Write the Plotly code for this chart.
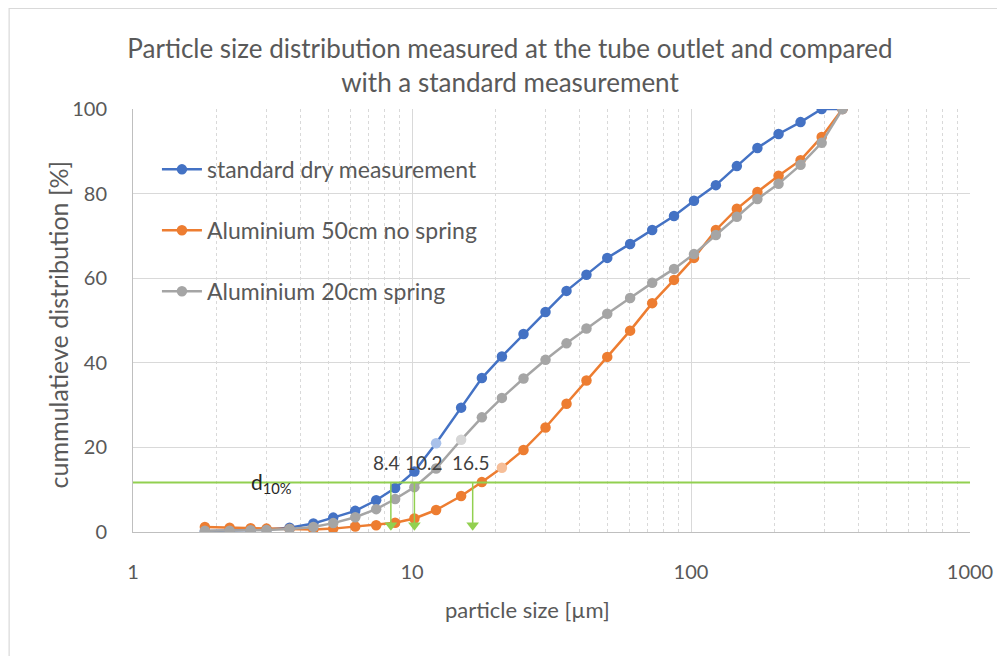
import math
import plotly.graph_objects as go

# ---- data ----
particle_size_um = [1.81, 2.22, 2.64, 3.01, 3.64, 4.43, 5.22, 6.26, 7.44, 8.70,
                    10.2, 12.2, 15.0, 17.8, 21.0, 25.1, 30.1, 35.8, 42.2, 50.1,
                    60.5, 72.6, 86.9, 102.5, 122.8, 146, 173, 206, 247, 294, 349]

standard_dry = [0.2, 0.3, 0.4, 0.6, 1.0, 2.0, 3.4, 5.0, 7.5, 10.4,
                14.3, 21.0, 29.4, 36.4, 41.5, 46.8, 52.0, 57.0, 60.8, 64.8,
                68.1, 71.4, 74.7, 78.3, 82.0, 86.5, 90.8, 94.1, 96.9, 100, 100]

alu_50cm_no_spring = [1.2, 1.0, 0.9, 0.8, 0.7, 0.6, 0.8, 1.3, 1.6, 2.2,
                      3.2, 5.2, 8.5, 11.8, 15.2, 19.4, 24.7, 30.3, 35.8, 41.4,
                      47.6, 54.1, 59.6, 64.8, 71.4, 76.4, 80.4, 84.2, 87.9, 93.4, 100]

alu_20cm_spring = [0.3, 0.3, 0.4, 0.5, 0.7, 1.2, 2.1, 3.5, 5.4, 7.8,
                   10.6, 15.0, 21.8, 27.1, 31.7, 36.3, 40.7, 44.6, 48.1, 51.6,
                   55.3, 58.9, 62.2, 65.7, 70.2, 74.5, 78.7, 82.3, 86.8, 92.0, 100]

series_names = ["standard dry measurement", "Aluminium 50cm no spring", "Aluminium 20cm spring"]

d10_level = 11.7
d10_values = [8.4, 10.2, 16.5]
d10_labels = ["8.4", "10.2", "16.5"]

x_tick_vals = [1, 10, 100, 1000]
x_tick_text = ["1", "10", "100", "1000"]
y_tick_vals = [0, 20, 40, 60, 80, 100]

# ---- styling ----
FONT = "Lato"
TXT = "#595959"
colors = ["#4472C4", "#ED7D31", "#A5A5A5"]
light_colors = ["#A9C1EA", "#F6BE98", "#D6D6D6"]
highlight_idx = [11, 14, 12]   # faded (selected) point of each series
GREEN = "#92D050"

fig = go.Figure()
for name, ys, c, lc, hi in zip(series_names,
                               [standard_dry, alu_50cm_no_spring, alu_20cm_spring],
                               colors, light_colors, highlight_idx):
    mcols = [lc if i == hi else c for i in range(len(ys))]
    fig.add_trace(go.Scatter(
        x=particle_size_um, y=ys, name=name, mode="lines+markers",
        line=dict(color=c, width=2.5),
        marker=dict(color=mcols, size=10.5, symbol="circle"),
        legendgroup=name,
    ))

# d10 arrows: shafts and heads
for v in d10_values:
    fig.add_trace(go.Scatter(x=[v, v], y=[d10_level, 1.0], mode="lines",
                             line=dict(color=GREEN, width=1.5),
                             showlegend=False, hoverinfo="skip"))
fig.add_trace(go.Scatter(x=d10_values, y=[1.6] * len(d10_values), mode="markers",
                         marker=dict(symbol="triangle-down", size=11, color=GREEN,
                                     line=dict(width=0)),
                         showlegend=False, hoverinfo="skip"))

# d10 horizontal line
fig.add_shape(type="line", xref="paper", yref="y", x0=0, x1=1,
              y0=d10_level, y1=d10_level, line=dict(color=GREEN, width=2))

# value labels
label_shift = [-4, 10, -2]
for v, lab, sh in zip(d10_values, d10_labels, label_shift):
    fig.add_annotation(x=math.log10(v), y=16.5, xref="x", yref="y", text=lab,
                       showarrow=False, xshift=sh,
                       font=dict(family=FONT, size=19, color="#404040"))

fig.add_annotation(x=0.139, y=d10_level, xref="paper", yref="y",
                   text="d<sub>10%</sub>", showarrow=False, xanchor="left",
                   yanchor="middle",
                   font=dict(family=FONT, size=21, color="#262626"))

# axis titles as annotations (positioned like the reference)
fig.add_annotation(x=0.471, y=-0.184, xref="paper", yref="paper",
                   text="particle size [µm]", showarrow=False,
                   xanchor="center", yanchor="middle",
                   font=dict(family=FONT, size=22, color=TXT))
fig.add_annotation(x=-0.09, y=0.49, xref="paper", yref="paper",
                   text="cummulatieve distribution [%]", showarrow=False,
                   textangle=-90, xanchor="center", yanchor="middle",
                   font=dict(family=FONT, size=25, color=TXT))

# chart border
fig.add_shape(type="rect", xref="paper", yref="paper",
              x0=-0.148, x1=1.3, y0=-0.6, y1=1.2376,
              line=dict(color="#D9D9D9", width=1.2), layer="below")

fig.update_layout(
    width=997, height=648,
    margin=dict(l=125, r=32, t=101, b=124),
    paper_bgcolor="white", plot_bgcolor="white",
    title=dict(text="Particle size distribution measured at the tube outlet and compared<br>with a standard measurement",
               x=0.5035, xref="container", xanchor="center",
               y=0.9229, yref="container", yanchor="middle",
               font=dict(family=FONT, size=26, color=TXT)),
    showlegend=True,
    legend=dict(x=0.0286, y=0.908, xanchor="left", yanchor="top",
                bgcolor="rgba(0,0,0,0)", tracegroupgap=28, itemwidth=40,
                font=dict(family=FONT, size=23, color=TXT)),
    font=dict(family=FONT, color=TXT),
)

fig.update_xaxes(type="log", range=[0, 3],
                 tickvals=x_tick_vals, ticktext=x_tick_text,
                 showgrid=True, gridcolor="#D9D9D9", gridwidth=1,
                 minor=dict(tickvals=[m * d for d in (1, 10, 100) for m in range(2, 10)],
                            showgrid=True, gridcolor="#D9D9D9", griddash="dot", gridwidth=1),
                 showline=True, linecolor="#BFBFBF", linewidth=1,
                 ticks="", ticklabelstandoff=22,
                 tickfont=dict(family=FONT, size=20, color=TXT), zeroline=False)

fig.update_yaxes(range=[0, 100], tickvals=y_tick_vals,
                 showgrid=True, gridcolor="#D9D9D9", gridwidth=1,
                 showline=True, linecolor="#BFBFBF", linewidth=1,
                 ticks="", ticklabelstandoff=21,
                 tickfont=dict(family=FONT, size=20, color=TXT), zeroline=False)

fig.write_html("out.html")
